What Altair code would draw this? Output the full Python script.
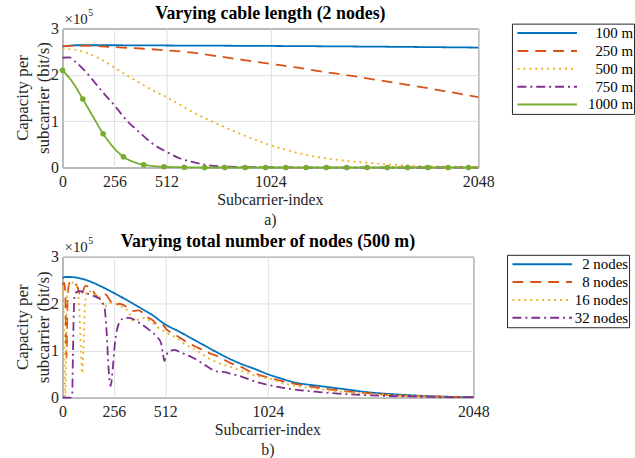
import altair as alt
import pandas as pd

FONT = "Liberation Serif"
INK = "#262626"

# ---------------- Panel a): varying cable length (2 nodes) ----------------
cable_series = ["100 m", "250 m", "500 m", "750 m", "1000 m"]
cable_colors = ["#0072BD", "#D95319", "#EDB120", "#7E2F8E", "#77AC30"]

idx_100 = [0, 32, 64, 256, 512, 1024, 1536, 2048]
cap_100 = [2.61, 2.63, 2.64, 2.64, 2.635, 2.625, 2.61, 2.59]

idx_250 = [0, 128, 256, 384, 512, 640, 768, 896, 1024, 1152, 1280, 1408, 1536, 1664, 1792, 1920, 2048]
cap_250 = [2.62, 2.63, 2.60, 2.57, 2.53, 2.48, 2.40, 2.32, 2.24, 2.16, 2.07, 1.99, 1.90, 1.81, 1.72, 1.62, 1.52]

idx_500 = [0, 64, 128, 192, 256, 320, 384, 448, 512, 576, 640, 704, 768, 832, 896, 960, 1024,
           1088, 1152, 1280, 1408, 1536, 1664, 1792, 1920, 2048]
cap_500 = [2.56, 2.54, 2.46, 2.33, 2.16, 1.98, 1.82, 1.66, 1.52, 1.36, 1.20, 1.06, 0.93, 0.81, 0.69, 0.58, 0.48,
           0.40, 0.32, 0.21, 0.14, 0.09, 0.05, 0.03, 0.02, 0.01]

idx_750 = [0, 32, 64, 96, 128, 160, 192, 256, 320, 384, 448, 512, 576, 640, 704, 768, 896, 1024, 1280, 1536, 2048]
cap_750 = [2.37, 2.38, 2.28, 2.15, 2.00, 1.83, 1.66, 1.34, 1.00, 0.74, 0.50, 0.34, 0.20, 0.12, 0.06, 0.03, 0.01,
           0.005, 0.0, 0.0, 0.0]

idx_1000 = [0, 50, 100, 150, 200, 250, 300, 350, 400, 450, 500, 600, 700, 800, 900, 1000, 1100, 1200, 1300,
            1400, 1500, 1600, 1700, 1800, 1900, 2000, 2048]
cap_1000 = [2.10, 1.84, 1.48, 1.10, 0.73, 0.44, 0.23, 0.12, 0.06, 0.03, 0.015, 0.005, 0.0, 0.0, 0.0, 0.0, 0.0,
            0.0, 0.0, 0.0, 0.0, 0.0, 0.0, 0.0, 0.0, 0.0, 0.0]

# ---------------- Panel b): varying number of nodes (500 m) ----------------
node_series = ["2 nodes", "8 nodes", "16 nodes", "32 nodes"]
node_colors = ["#0072BD", "#D95319", "#EDB120", "#7E2F8E"]

idx_2n = [0, 16, 32, 64, 128, 192, 256, 320, 384, 448, 512, 576, 640, 704, 768, 832, 896, 960, 1024,
          1088, 1152, 1280, 1408, 1536, 1664, 1792, 1920, 2048]
cap_2n = [2.55, 2.57, 2.57, 2.56, 2.49, 2.37, 2.23, 2.08, 1.92, 1.76, 1.56, 1.42, 1.27, 1.12, 0.97, 0.83, 0.71,
          0.61, 0.50, 0.41, 0.33, 0.25, 0.18, 0.11, 0.07, 0.04, 0.02, 0.01]

idx_8n = [0, 8, 14, 20, 26, 35, 46, 60, 75, 90, 100, 115, 140, 160, 180, 195, 215, 240, 260, 280, 300, 330,
          355, 380, 420, 450, 470, 490, 520, 578, 620, 677, 726, 785, 835, 893, 943, 1000, 1050, 1117, 1280,
          1408, 1536, 1664, 1792, 1920, 2048]
cap_8n = [2.40, 2.45, 2.20, 0.85, 2.20, 2.45, 2.48, 2.45, 2.35, 2.15, 2.25, 2.38, 2.33, 2.22, 2.12, 2.22, 2.20,
          2.05, 1.95, 2.00, 1.98, 1.90, 1.85, 1.86, 1.72, 1.65, 1.57, 1.58, 1.45, 1.30, 1.18, 1.06, 0.96, 0.86,
          0.74, 0.65, 0.54, 0.46, 0.40, 0.33, 0.21, 0.14, 0.09, 0.05, 0.03, 0.02, 0.01]

idx_16n = [0, 5, 10, 14, 18, 24, 35, 50, 70, 82, 92, 98, 104, 112, 125, 150, 185, 200, 212, 225, 250, 290,
           330, 350, 365, 410, 440, 478, 520, 580, 600, 675, 720, 778, 870, 936, 1034, 1117, 1280, 1408, 1536,
           1664, 1792, 1920, 2048]
cap_16n = [2.35, 2.00, 0.80, 0.02, 0.90, 2.30, 2.45, 2.45, 2.38, 2.00, 1.00, 0.52, 1.00, 2.00, 2.28, 2.22,
           2.12, 1.98, 1.93, 2.00, 2.02, 1.95, 1.82, 1.64, 1.65, 1.70, 1.62, 1.49, 1.38, 1.24, 1.17, 0.99, 0.86,
           0.74, 0.61, 0.50, 0.40, 0.29, 0.18, 0.12, 0.08, 0.05, 0.03, 0.02, 0.01]

idx_32n = [0, 20, 40, 48, 52, 56, 60, 70, 85, 110, 140, 170, 195, 210, 220, 230, 240, 250, 260, 272, 288, 310,
           330, 380, 430, 470, 490, 500, 508, 516, 530, 560, 590, 650, 720, 760, 780, 800, 830, 885, 970, 1050,
           1115, 1280, 1536, 1792, 2048]
cap_32n = [0.0, 0.0, 0.0, 0.05, 0.90, 1.80, 2.15, 2.25, 2.27, 2.24, 2.19, 2.14, 2.06, 1.90, 1.40, 0.60, 0.25,
           0.60, 1.10, 1.45, 1.63, 1.70, 1.70, 1.60, 1.45, 1.30, 1.18, 0.95, 0.78, 0.88, 0.98, 1.02, 0.96, 0.85,
           0.67, 0.57, 0.55, 0.55, 0.52, 0.46, 0.33, 0.25, 0.20, 0.12, 0.05, 0.02, 0.01]

x_ticks = [0, 256, 512, 1024, 2048]
y_ticks = [0, 1, 2, 3]


def long_df(names, idx_lists, cap_lists):
    rows = []
    for n, xs, ys in zip(names, idx_lists, cap_lists):
        for a, b in zip(xs, ys):
            rows.append({"series": n, "idx": a, "cap": b})
    return pd.DataFrame(rows)


df_a = long_df(cable_series, [idx_100, idx_250, idx_500, idx_750, idx_1000],
               [cap_100, cap_250, cap_500, cap_750, cap_1000])
df_b = long_df(node_series, [idx_2n, idx_8n, idx_16n, idx_32n], [cap_2n, cap_8n, cap_16n, cap_32n])

dash_styles_a = [[1, 0], [11, 7], [2, 4], [9, 4, 2, 4], [1, 0]]
dash_styles_b = [[1, 0], [11, 7], [2, 4], [9, 4, 2, 4]]

dummy = pd.DataFrame({"a": [0]})


def label(text, x, y, size, weight="normal", angle=0, align="center", color=INK):
    return alt.Chart(dummy).mark_text(
        text=text, font=FONT, fontSize=size, fontWeight=weight, angle=angle, align=align,
        baseline="alphabetic", color=color
    ).encode(x=alt.value(x), y=alt.value(y))


def panel(df, names, colors, dashes, title, sub, w, h, lx, ly, with_markers=False):
    x = alt.X("idx:Q", scale=alt.Scale(domain=[0, 2048], nice=False, zero=False),
              axis=alt.Axis(values=x_ticks, format="d", title=None, labelPadding=6, labelFlush=False))
    y = alt.Y("cap:Q", scale=alt.Scale(domain=[0, 3], nice=False),
              axis=alt.Axis(values=y_ticks, format="d", title=None, labelPadding=4, labelFlush=False))
    leg = alt.Legend(title=None, orient="none", legendX=lx, legendY=ly,
                     symbolType="M-4,0H4", symbolSize=225, symbolOffset=26, symbolStrokeWidth=2,
                     labelFont=FONT, labelFontSize=15, labelColor="black", labelAlign="right",
                     labelOffset=78, strokeColor=INK, fillColor="white", padding=1, rowPadding=1)
    color = alt.Color("series:N", scale=alt.Scale(domain=names, range=colors), legend=leg)
    dash = alt.StrokeDash("series:N", scale=alt.Scale(domain=names, range=dashes), legend=leg)
    lines = alt.Chart(df).mark_line(strokeWidth=1.8, interpolate="monotone").encode(
        x=x, y=y, color=color, strokeDash=dash)
    layers = [lines]
    if with_markers:
        pts = alt.Chart(df).transform_filter(
            "datum.series === '1000 m' && datum.idx % 100 === 0"
        ).mark_point(filled=True, size=32, opacity=1, color="#77AC30").encode(x="idx:Q", y="cap:Q")
        layers.append(pts)
    layers += [
        label(title, w / 2, -10, 18, weight="bold", color="black"),
        label("×10", 2, -5, 15, align="left"),
        label("5", 26, -13, 10, align="left"),
        label("Subcarrier-index", w / 2, h + 38, 16),
        label(sub, w / 2, h + 58, 16),
        label("Capacity per", -35, h / 2, 17, angle=270),
        label("subcarrier (bit/s)", -14, h / 2, 17, angle=270),
    ]
    return alt.layer(*layers).properties(width=w, height=h)


top = panel(df_a, cable_series, cable_colors, dash_styles_a, "Varying cable length (2 nodes)", "a)",
            419, 140, 453, -5, with_markers=True)
bottom = panel(df_b, node_series, node_colors, dash_styles_b, "Varying total number of nodes (500 m)", "b)",
               414, 142, 448, -2)

chart = alt.vconcat(top, bottom, spacing=3).resolve_scale(
    color="independent", strokeDash="independent"
).properties(
    padding={"left": 13, "top": 2, "right": 0, "bottom": 0},
    background="white"
).configure_view(
    stroke=INK, strokeWidth=1
).configure_axis(
    labelFont=FONT, labelFontSize=16, labelColor=INK, gridColor="#dfdfdf", gridWidth=1,
    domain=False, ticks=False
)

chart.save("out.html", embed_options={"renderer": "svg", "actions": False})
